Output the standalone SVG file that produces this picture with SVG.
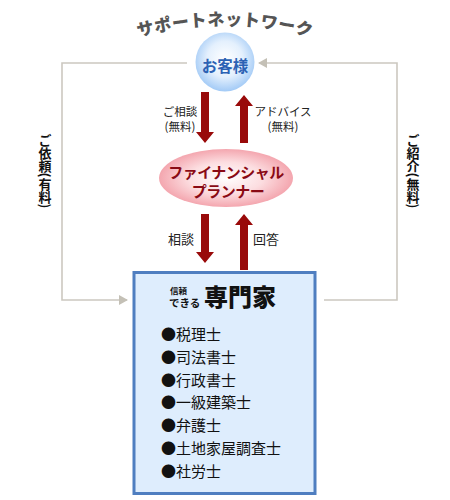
<svg xmlns="http://www.w3.org/2000/svg" width="450" height="500" viewBox="0 0 450 500">
<defs>
<radialGradient id="gBlue" cx="50%" cy="45%" r="55%">
<stop offset="0" stop-color="#ffffff"/>
<stop offset="0.55" stop-color="#e4f0fd"/>
<stop offset="1" stop-color="#a2caf6"/>
</radialGradient>
<radialGradient id="gPink" cx="50%" cy="50%" r="55%">
<stop offset="0" stop-color="#ffffff"/>
<stop offset="0.5" stop-color="#fcdde0"/>
<stop offset="1" stop-color="#f29aa4"/>
</radialGradient>
<marker id="ah" markerWidth="10" markerHeight="10" refX="8" refY="5" orient="auto" markerUnits="userSpaceOnUse">
<path d="M0,0 L9,5 L0,10 Z" fill="#c4c0b6"/>
</marker>
<path id="arc" d="M128,40 A330,330 0 0 1 322,40"/>
</defs>
<style>
.jp{font-family:"Noto Sans CJK JP","Noto Sans",sans-serif;}
.gline{fill:none;stroke:#ccc8c0;stroke-width:1.6;}
.red{fill:#990a0a;}
.lbl{font-size:11.5px;fill:#222;text-anchor:middle;}
.lbl2{font-size:13px;fill:#222;text-anchor:middle;}
.vert{font-size:13px;font-weight:bold;fill:#111;writing-mode:vertical-rl;text-anchor:middle;}
.item{font-size:15px;fill:#111;}
</style>
<rect width="450" height="500" fill="#ffffff"/>

<g id="title">
<text class="jp" font-size="17" font-weight="900" fill="#555555" letter-spacing="0.5"><textPath href="#arc" startOffset="50%" text-anchor="middle">サポートネットワーク</textPath></text>
</g>

<g id="connectors">
<polyline class="gline" points="187,63 62,63 62,300 127,300" marker-end="url(#ah)"/>
<polyline class="gline" points="324,300 397,300 397,63 259,63" marker-end="url(#ah)"/>
<polygon class="red" points="201,92 209,92 209,132 214,132 205,143 196,132 201,132"/>
<polygon class="red" points="244,95 253,106 248,106 248,143 240,143 240,106 235,106"/>
<polygon class="red" points="201,214 209,214 209,252 214,252 205,263 196,252 201,252"/>
<polygon class="red" points="244,214 253,225 248,225 248,270 240,270 240,225 235,225"/>
<text class="jp lbl" x="180" y="116">ご相談</text>
<text class="jp lbl" x="180" y="131">(無料)</text>
<text class="jp lbl" x="283" y="116">アドバイス</text>
<text class="jp lbl" x="283" y="131">(無料)</text>
<text class="jp lbl2" x="181" y="244">相談</text>
<text class="jp lbl2" x="266" y="244">回答</text>
<text class="jp vert" x="45" y="171">ご依頼(有料)</text>
<text class="jp vert" x="413" y="171">ご紹介(無料)</text>
</g>

<g id="customer">
<circle cx="225" cy="62" r="29.5" fill="url(#gBlue)"/>
<text class="jp" x="225" y="72" font-size="15.5" font-weight="bold" fill="#2c62b4" text-anchor="middle">お客様</text>
</g>

<g id="planner">
<ellipse cx="226" cy="178" rx="67" ry="29" fill="url(#gPink)"/>
<text class="jp" x="226" y="178" font-size="15" font-weight="bold" fill="#8a0a14" text-anchor="middle" letter-spacing="-0.5">ファイナンシャル</text>
<text class="jp" x="228" y="197" font-size="15" font-weight="bold" fill="#8a0a14" text-anchor="middle" letter-spacing="-0.5">プランナー</text>
</g>

<g id="experts">
<rect x="134" y="272.5" width="181" height="221" fill="#deedfd" stroke="#4f7ec0" stroke-width="3"/>
<text class="jp" x="170" y="294" font-size="8.5" font-weight="bold" fill="#111">信頼</text>
<text class="jp" x="169" y="306.5" font-size="10.5" font-weight="bold" fill="#111">できる</text>
<text class="jp" x="204" y="306" font-size="24" font-weight="900" fill="#111">専門家</text>
<text class="jp item" x="161" y="340">●税理士</text>
<text class="jp item" x="161" y="363">●司法書士</text>
<text class="jp item" x="161" y="386">●行政書士</text>
<text class="jp item" x="161" y="408">●一級建築士</text>
<text class="jp item" x="161" y="431">●弁護士</text>
<text class="jp item" x="161" y="454">●土地家屋調査士</text>
<text class="jp item" x="161" y="477">●社労士</text>
</g>
</svg>
